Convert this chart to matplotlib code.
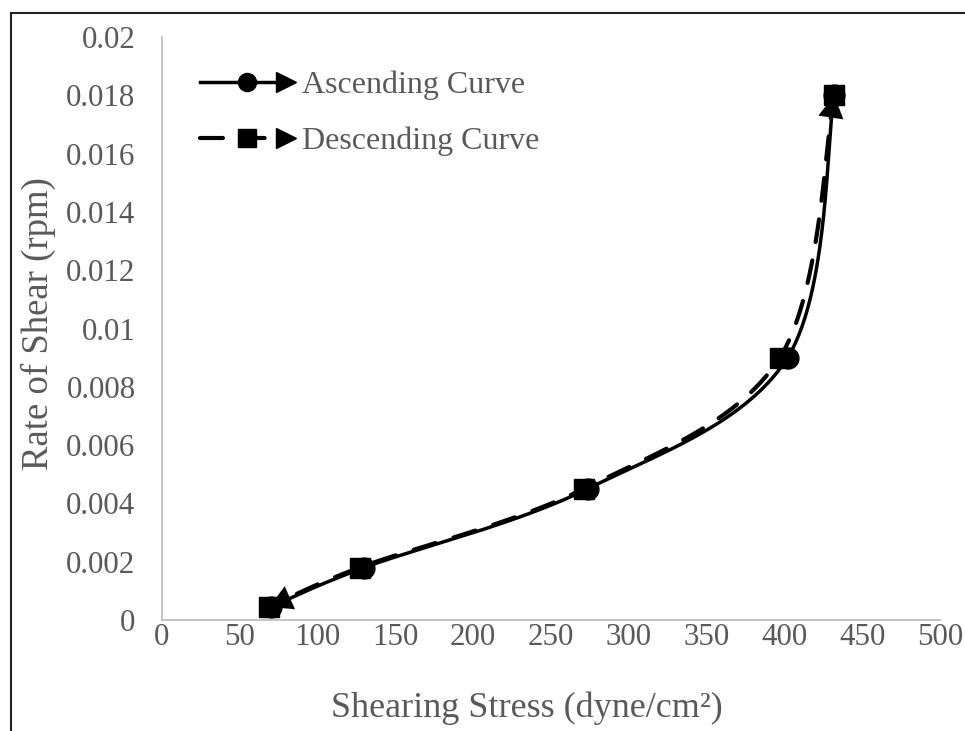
import numpy as np
import matplotlib
matplotlib.use('Agg')
import matplotlib.pyplot as plt
from matplotlib.lines import Line2D
from matplotlib.legend_handler import HandlerBase
from matplotlib.patches import Rectangle
from matplotlib.ticker import FuncFormatter

# ---- data ----
asc_x = [70, 130, 273.5, 402, 432]
asc_y = [0.00045, 0.0018, 0.0045, 0.009, 0.018]
desc_x = [432, 397, 271, 127, 69]
desc_y = [0.018, 0.009, 0.0045, 0.0018, 0.00045]
x_ticks = [0, 50, 100, 150, 200, 250, 300, 350, 400, 450, 500]
y_ticks = [0, 0.002, 0.004, 0.006, 0.008, 0.01, 0.012, 0.014, 0.016, 0.018, 0.02]
labels = ["Ascending Curve", "Descending Curve"]

GRAY = '#595959'
SPINE = '#bfbfbf'
FONT = 'Liberation Serif'
plt.rcParams['font.family'] = [FONT, 'DejaVu Serif']

W, H = 965, 731
fig = plt.figure(figsize=(W / 100, H / 100), dpi=100)
ax = fig.add_axes([162 / W, 1 - 620 / H, (940 - 162) / W, (620 - 37) / H])
ax.set_xlim(0, 500)
ax.set_ylim(0, 0.02)

# axis size in pixels (for Excel-like smoothing in screen space)
PW, PH = 940 - 162, 620 - 37


def smooth(xs, ys, n=60):
    xs = np.asarray(xs, float); ys = np.asarray(ys, float)
    px = xs / 500 * PW
    py = ys / 0.02 * PH
    P = np.column_stack([px, py])
    m = len(P)
    out = []
    for i in range(m - 1):
        p0 = P[i]; p1 = P[i + 1]
        pm = P[i - 1] if i > 0 else P[i]
        pp = P[i + 2] if i + 2 < m else P[i + 1]
        c1 = p0 + (p1 - pm) / 6
        c2 = p1 - (pp - p0) / 6
        t = np.linspace(0, 1, n)[:, None]
        seg = (1 - t) ** 3 * p0 + 3 * (1 - t) ** 2 * t * c1 + 3 * (1 - t) * t ** 2 * c2 + t ** 3 * p1
        out.append(seg if i == 0 else seg[1:])
    S = np.vstack(out)
    return S[:, 0] / PW * 500, S[:, 1] / PH * 0.02


def arrow_end(sx, sy, color='black'):
    ax.annotate('', xy=(sx[-1], sy[-1]), xytext=(sx[-4], sy[-4]),
                arrowprops=dict(arrowstyle='-|>,head_length=0.8,head_width=0.45',
                                color=color, lw=0.1, shrinkA=0, shrinkB=0,
                                mutation_scale=20), zorder=6)


ax_s = smooth(asc_x, asc_y)
de_s = smooth(desc_x, desc_y)

ax.plot(ax_s[0], ax_s[1], color='black', lw=2.5, solid_capstyle='round', zorder=3)
ax.plot(asc_x, asc_y, ls='none', marker='o', ms=15, color='black', zorder=4)
arrow_end(*ax_s)

ax.plot(de_s[0], de_s[1], color='black', lw=3.0, dashes=(5.5, 4.5),
        dash_capstyle='round', zorder=5)
ax.plot(desc_x, desc_y, ls='none', marker='s', ms=15, color='black', zorder=6)
arrow_end(*de_s)

# ---- axes styling ----
for s in ['top', 'right']:
    ax.spines[s].set_visible(False)
for s in ['left', 'bottom']:
    ax.spines[s].set_color(SPINE)
    ax.spines[s].set_linewidth(1.3)
ax.set_xticks(x_ticks)
ax.set_yticks(y_ticks)
ax.yaxis.set_major_formatter(FuncFormatter(lambda v, p: '%g' % round(v, 4)))
ax.tick_params(axis='both', length=0, labelsize=22.3, labelcolor=GRAY)
ax.tick_params(axis='y', pad=19)
ax.tick_params(axis='x', pad=2)
ax.set_xlabel('Shearing Stress (dyne/cm²)', fontsize=26, color=GRAY)
ax.set_ylabel('Rate of Shear (rpm)', fontsize=26.5, color=GRAY)
ax.xaxis.set_label_coords((527 - 162) / PW, -(708 - 620) / PH, transform=ax.transAxes)
ax.yaxis.set_label_coords(-(162 - 38) / PW, (620 - 324) / PH, transform=ax.transAxes)
ax.xaxis.label.set_va('center')
ax.yaxis.label.set_va('center')


class ArrowHandler(HandlerBase):
    def __init__(self, marker, dashed, **kw):
        super().__init__(**kw)
        self.marker = marker
        self.dashed = dashed

    def create_artists(self, legend, orig_handle, xdescent, ydescent, width,
                       height, fontsize, trans):
        y = height / 2 - ydescent
        x0 = -xdescent
        x1 = width - xdescent
        if self.dashed:
            line = Line2D([x0, x1 - 0.2 * width], [y, y], color='black', lw=3.0,
                          dashes=(5.5, 4.5), dash_capstyle='round')
        else:
            line = Line2D([x0, x1 - 0.2 * width], [y, y], color='black', lw=2.5)
        mk = Line2D([x0 + 0.5 * width], [y], ls='none', marker=self.marker,
                    ms=13, color='black')
        arr = Line2D([x1 - 0.1 * width], [y], ls='none', marker='>', ms=15,
                     color='black')
        for a in (line, mk, arr):
            a.set_transform(trans)
        return [line, mk, arr]


h1 = Line2D([], [], color='black')
h2 = Line2D([], [], color='black')
leg = ax.legend([h1, h2], labels, loc='upper left',
                bbox_to_anchor=((174 - 162) / PW, 1.0 - 8 / PH), frameon=False, fontsize=23,
                labelcolor=GRAY, handlelength=3.0, handletextpad=0.2,
                labelspacing=0.84, borderpad=0.3,
                handler_map={h1: ArrowHandler('o', False), h2: ArrowHandler('s', True)})

# outer frame (only top/left visible within image)
fig.patches.append(Rectangle((11 / W, -0.05), 1.1, 1 - 13 / H + 0.05,
                             transform=fig.transFigure, fill=False,
                             edgecolor='#222222', lw=1.5, zorder=10))

fig.savefig('out.png', dpi=100)
